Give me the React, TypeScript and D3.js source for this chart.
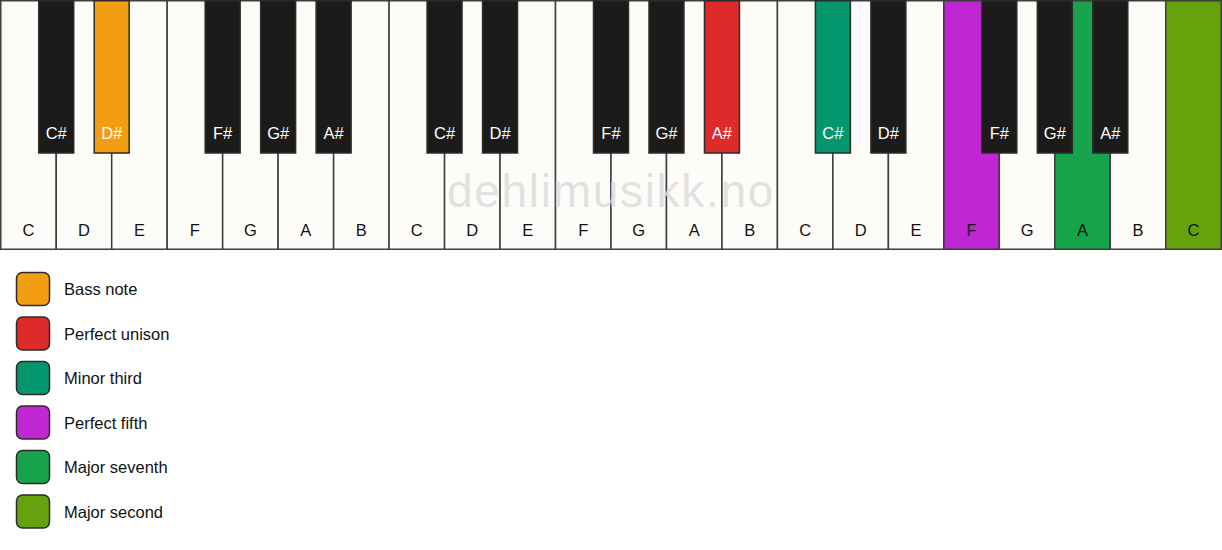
import * as d3 from "d3";
import { useRef, useEffect } from "react";

const whiteNotes = ["C", "D", "E", "F", "G", "A", "B", "C", "D", "E", "F", "G", "A", "B", "C", "D", "E", "F", "G", "A", "B", "C"];
// black key sits after the white key with this index
const blackAfter = [0, 1, 3, 4, 5, 7, 8, 10, 11, 12, 14, 15, 17, 18, 19];
const blackNotes = ["C#", "D#", "F#", "G#", "A#", "C#", "D#", "F#", "G#", "A#", "C#", "D#", "F#", "G#", "A#"];

const legendLabels = ["Bass note", "Perfect unison", "Minor third", "Perfect fifth", "Major seventh", "Major second"];
const legendColors = ["#f39e10", "#dd2a2a", "#04966c", "#c026d3", "#17a34a", "#65a30d"];
// highlighted keys: [kind, index, legend index]
const highlights: [string, number, number][] = [
  ["black", 1, 0],
  ["black", 9, 1],
  ["black", 10, 2],
  ["white", 17, 3],
  ["white", 19, 4],
  ["white", 21, 5],
];

export default function App() {
  const width = 1222;
  const height = 550;
  const keyHeight = 250;
  const blackHeight = 153;
  const ref = useRef(null);

  useEffect((): void => {
    if (!ref.current) return;
    const svg = d3.select(ref.current);
    svg.selectAll("*").remove();

    const x = d3
      .scaleBand<number>()
      .domain(d3.range(whiteNotes.length))
      .range([0.75, width - 0.75])
      .padding(0);
    const bw = x.bandwidth() * 0.63;

    const whiteColor = (i: number) => {
      const h = highlights.find((d) => d[0] === "white" && d[1] === i);
      return h ? legendColors[h[2]] : "#fdfcf9";
    };
    const blackColor = (i: number) => {
      const h = highlights.find((d) => d[0] === "black" && d[1] === i);
      return h ? legendColors[h[2]] : "#1c1b1a";
    };

    const font = "'Liberation Sans', Arial, Helvetica, sans-serif";

    const white = svg.append("g");
    white
      .selectAll("rect")
      .data(whiteNotes)
      .join("rect")
      .attr("x", (_, i) => x(i)!)
      .attr("y", 0.75)
      .attr("width", x.bandwidth())
      .attr("height", keyHeight - 1.5)
      .attr("fill", (_, i) => whiteColor(i))
      .attr("stroke", "#3d3d3d")
      .attr("stroke-width", 1.5);
    white
      .selectAll("text")
      .data(whiteNotes)
      .join("text")
      .attr("x", (_, i) => x(i)! + x.bandwidth() / 2)
      .attr("y", 236)
      .attr("text-anchor", "middle")
      .attr("font-family", font)
      .attr("font-size", 16.5)
      .attr("fill", "#111")
      .text((d) => d);

    // watermark
    svg
      .append("text")
      .attr("x", 611)
      .attr("y", 207)
      .attr("text-anchor", "middle")
      .attr("font-family", font)
      .attr("font-size", 46)
      .attr("letter-spacing", 1.7)
      .attr("fill", "#dadada")
      .attr("fill-opacity", 0.8)
      .text("dehlimusikk.no");

    const black = svg.append("g");
    black
      .selectAll("rect")
      .data(blackNotes)
      .join("rect")
      .attr("x", (_, i) => x(blackAfter[i])! + x.bandwidth() - bw / 2)
      .attr("y", 0.75)
      .attr("width", bw)
      .attr("height", blackHeight - 0.75)
      .attr("fill", (_, i) => blackColor(i))
      .attr("stroke", "#2b2b2b")
      .attr("stroke-width", 1.5);
    black
      .selectAll("text")
      .data(blackNotes)
      .join("text")
      .attr("x", (_, i) => x(blackAfter[i])! + x.bandwidth())
      .attr("y", 139)
      .attr("text-anchor", "middle")
      .attr("font-family", font)
      .attr("font-size", 16.5)
      .attr("fill", "#ffffff")
      .text((d) => d);

    const y = d3
      .scalePoint<number>()
      .domain(d3.range(legendLabels.length))
      .range([289, 511.5]);

    const legend = svg
      .append("g")
      .selectAll("g")
      .data(legendLabels)
      .join("g")
      .attr("transform", (_, i) => `translate(0,${y(i)})`);
    legend
      .append("rect")
      .attr("x", 16.5)
      .attr("y", -16.5)
      .attr("width", 33)
      .attr("height", 33)
      .attr("rx", 6)
      .attr("fill", (_, i) => legendColors[i])
      .attr("stroke", "#2b2b2b")
      .attr("stroke-width", 1.5);
    legend
      .append("text")
      .attr("x", 64)
      .attr("y", 6)
      .attr("font-family", font)
      .attr("font-size", 16.5)
      .attr("fill", "#111")
      .text((d) => d);
  }, []);

  return (
    <div style={{ position: "absolute", left: 0, top: 0, background: "#fff" }}>
      <svg ref={ref} width={width} height={height} style={{ display: "block" }} />
    </div>
  );
}
